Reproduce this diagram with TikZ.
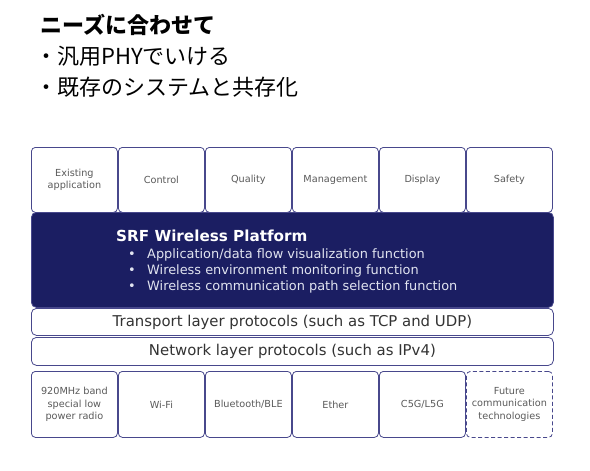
\documentclass[tikz,border=0pt]{standalone}
\usepackage{fontspec}
\setmainfont{DejaVu Sans}
\newfontfamily\cjk{Noto Sans CJK JP}
\definecolor{navy}{RGB}{27,30,98}
\definecolor{edge}{RGB}{72,72,140}
\definecolor{txt}{RGB}{90,90,90}
\definecolor{ltxt}{RGB}{225,228,240}
\tikzset{
  cell/.style={draw=edge, line width=0.8pt, rounded corners=4pt, fill=white,
    minimum width=86pt, minimum height=65pt, inner sep=1pt, align=center,
    font=\fontsize{9.7}{12.2}\selectfont, text=txt, anchor=north west},
  layer/.style={draw=edge, line width=0.8pt, rounded corners=5pt, fill=white,
    minimum width=522pt, inner sep=0pt, anchor=north west,
    font=\fontsize{14.9}{16}\selectfont, text=black!80},
  plat/.style={fill=navy, draw=edge, line width=0.8pt, rounded corners=5pt,
    minimum width=522pt, minimum height=95pt, anchor=north west, inner sep=0pt},
  head/.style={anchor=west, inner sep=0pt, font=\cjk\fontsize{22}{24}\selectfont},
  bul/.style={anchor=west, inner sep=0pt, text=ltxt, font=\fontsize{12.9}{14}\selectfont}
}
\begin{document}
\begin{tikzpicture}[x=1pt,y=-1pt]
\useasboundingbox (0,0) rectangle (590,471);
% heading
\node[head, font=\cjk\bfseries\fontsize{22}{24}\selectfont] (h1) at (40,25) {ニーズに合わせて};
\node[head] (h2) at (35,56) {・汎用PHYでいける};
\node[head] (h3) at (35,87) {・既存のシステムと共存化};
% platform
\node[plat] (plat) at (31,212) {};
% top row
\node[cell] (a1) at (31,147) {Existing\\application};
\node[cell] (a2) at (118,147) {Control};
\node[cell] (a3) at (205,147) {Quality};
\node[cell] (a4) at (292,147) {Management};
\node[cell] (a5) at (379,147) {Display};
\node[cell] (a6) at (466,147) {Safety};
% platform text
\node[anchor=west, inner sep=0pt, text=white, font=\bfseries\fontsize{15.2}{18}\selectfont] (pt) at (116,236) {SRF Wireless Platform};
\node[bul] (d1) at (128,255) {\textbullet};
\node[bul] (d2) at (128,271) {\textbullet};
\node[bul] (d3) at (128,287) {\textbullet};
\node[bul] (b1) at (147,255) {Application/data flow visualization function};
\node[bul] (b2) at (147,271) {Wireless environment monitoring function};
\node[bul] (b3) at (147,287) {Wireless communication path selection function};
% layers
\node[layer, minimum height=27pt] (tr) at (31,308) {Transport layer protocols (such as TCP and UDP)};
\node[layer, minimum height=28pt] (nw) at (31,337) {Network layer protocols (such as IPv4)};
% bottom row
\node[cell, minimum height=66pt] (c1) at (31,371) {920MHz band\\special low\\power radio};
\node[cell, minimum height=66pt] (c2) at (118,371) {Wi-Fi};
\node[cell, minimum height=66pt] (c3) at (205,371) {Bluetooth/BLE};
\node[cell, minimum height=66pt] (c4) at (292,371) {Ether};
\node[cell, minimum height=66pt] (c5) at (379,371) {C5G/L5G};
\node[cell, minimum height=66pt, dashed, dash pattern=on 4pt off 2.5pt] (c6) at (466,371) {Future\\communication\\technologies};
\end{tikzpicture}
\end{document}
